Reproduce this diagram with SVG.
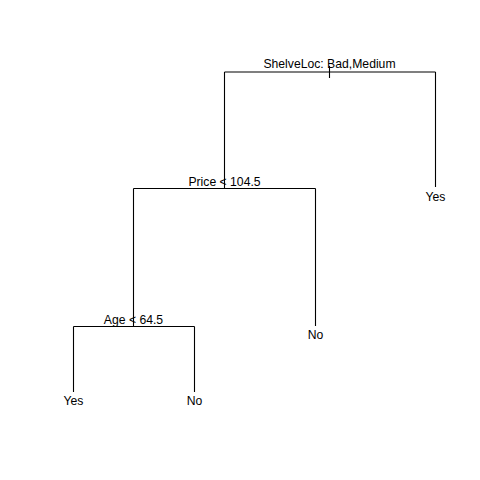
<svg xmlns="http://www.w3.org/2000/svg" width="480" height="480" viewBox="0 0 480 480">
<style>
.e{fill:none;stroke:#000;stroke-width:1.1}
text{font-family:"Liberation Sans",Arial,sans-serif;font-size:12.2px;fill:#000;text-anchor:middle}
</style>
<rect width="480" height="480" fill="#fff"/>
<g id="connectors">
<path class="e" d="M329.5,66V78M224.5,72H435.5M224.5,72V188.5M435.5,72V187"/>
<path class="e" d="M133.5,188.5H315.5M133.5,188.5V326.5M315.5,188.5V326"/>
<path class="e" d="M73.5,326.5H194.5M73.5,326.5V392M194.5,326.5V392"/>
</g>
<g id="n1"><text x="329.5" y="68">ShelveLoc: Bad,Medium</text></g>
<g id="n2"><text x="224.5" y="185.5">Price &lt; 104.5</text></g>
<g id="n3"><text x="435.5" y="201">Yes</text></g>
<g id="n4"><text x="133.5" y="323.5">Age &lt; 64.5</text></g>
<g id="n5"><text x="315.5" y="339">No</text></g>
<g id="n6"><text x="73.5" y="405">Yes</text></g>
<g id="n7"><text x="194.5" y="405">No</text></g>
</svg>
